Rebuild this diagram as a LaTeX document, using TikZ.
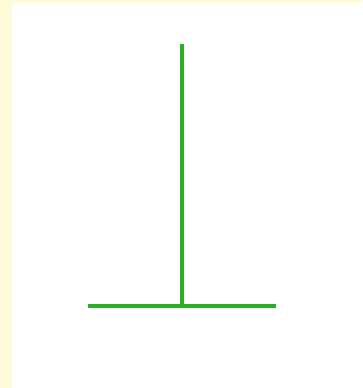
\documentclass[tikz,border=0pt]{standalone}
\definecolor{bgyellow}{HTML}{FFFAD8}
\definecolor{tgreen}{HTML}{2DAF25}
\tikzset{stroke/.style={draw=tgreen,line width=4pt}}
\begin{document}
\begin{tikzpicture}[x=1pt,y=-1pt]
\fill[bgyellow] (0,0) rectangle (362,388);
\fill[white] (12,2.5) rectangle (362,388);
\useasboundingbox (0,0) rectangle (362,388);
\coordinate (top) at (181.5,43.5);
\coordinate (foot) at (181.5,305.5);
\coordinate (left) at (87.5,305.5);
\coordinate (right) at (275.5,305.5);
\draw[stroke] (top) -- (foot);
\draw[stroke] (left) -- (right);
\end{tikzpicture}
\end{document}
